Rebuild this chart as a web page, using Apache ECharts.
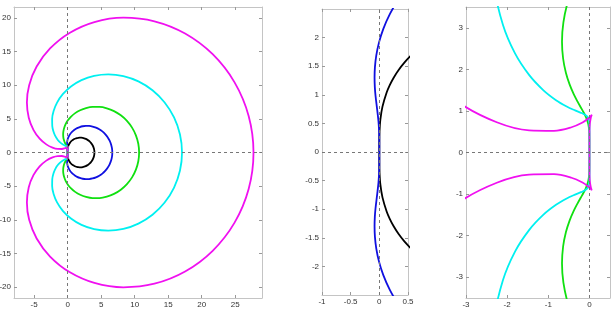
<!DOCTYPE html>
<html>
<head>
<meta charset="utf-8">
<script src="https://cdn.jsdelivr.net/npm/echarts@6/dist/echarts.min.js"></script>
<style>
  html, body { margin: 0; padding: 0; background: #fff; }
  #chart { width: 615px; height: 312px; }
</style>
</head>
<body>
<div id="chart"></div>
<script>
// boundary curves, traced as [x, y] points (closed loops starting at the origin)
const bdf2 = [
  [0,0],[0.0002,0.1763],[0.0036,0.3627],[0.0179,0.5670],[0.0547,0.7932],[0.1276,1.0397],[0.1818,1.1685],
  [0.25,1.2990],[0.3334,1.4296],[0.4329,1.5580],[0.5494,1.6819],[0.6829,1.7986],[0.8333,1.9056],[1,2],
  [1.1819,2.0792],[1.3775,2.1406],[1.5846,2.1819],[1.8010,2.2008],[2.0239,2.1957],[2.25,2.1651],
  [2.4762,2.1081],[2.6988,2.0245],[2.9142,1.9142],[3.1189,1.7780],[3.3093,1.6170],[3.4821,1.4330],
  [3.6340,1.2283],[3.7624,1.0054],[3.8649,0.7676],[3.9395,0.5183],[3.9848,0.2612],[4,0],
  [3.9848,-0.2612],[3.9395,-0.5183],[3.8649,-0.7676],[3.7624,-1.0054],[3.6340,-1.2283],[3.4821,-1.4330],
  [3.3093,-1.6170],[3.1189,-1.7780],[2.9142,-1.9142],[2.6988,-2.0245],[2.4762,-2.1081],[2.25,-2.1651],
  [2.0239,-2.1957],[1.8010,-2.2008],[1.5846,-2.1819],[1.3775,-2.1406],[1.1819,-2.0792],[1,-2],
  [0.8333,-1.9056],[0.6829,-1.7986],[0.5494,-1.6819],[0.4329,-1.5580],[0.3334,-1.4296],[0.25,-1.2990],
  [0.1818,-1.1685],[0.1276,-1.0397],[0.0547,-0.7932],[0.0179,-0.5670],[0.0036,-0.3627],[0.0002,-0.1763],[0,0]
];
const bdf3 = [
  [0,0],[-0.0002,0.1746],[-0.0034,0.3506],[-0.0148,0.5343],[-0.0377,0.7398],[-0.0668,0.9876],[-0.0785,1.1342],
  [-0.0833,1.2990],[-0.0767,1.4836],[-0.0531,1.6882],[-0.0065,1.9121],[0.0695,2.1527],[0.1809,2.4061],
  [0.3333,2.6667],[0.5313,2.9271],[0.7781,3.1788],[1.0751,3.4121],[1.4216,3.6166],[1.8150,3.7817],
  [2.25,3.8971],[2.7191,3.9533],[3.2126,3.9420],[3.7190,3.8570],[4.2253,3.6943],[4.7175,3.4522],
  [5.1814,3.1324],[5.6027,2.7389],[5.9682,2.2789],[6.2659,1.7622],[6.4860,1.2007],[6.6211,0.6082],[6.6667,0],
  [6.6211,-0.6082],[6.4860,-1.2007],[6.2659,-1.7622],[5.9682,-2.2789],[5.6027,-2.7389],[5.1814,-3.1324],
  [4.7175,-3.4522],[4.2253,-3.6943],[3.7190,-3.8570],[3.2126,-3.9420],[2.7191,-3.9533],[2.25,-3.8971],
  [1.8150,-3.7817],[1.4216,-3.6166],[1.0751,-3.4121],[0.7781,-3.1788],[0.5313,-2.9271],[0.3333,-2.6667],
  [0.1809,-2.4061],[0.0695,-2.1527],[-0.0065,-1.9121],[-0.0531,-1.6882],[-0.0767,-1.4836],[-0.0833,-1.2990],
  [-0.0785,-1.1342],[-0.0668,-0.9876],[-0.0377,-0.7398],[-0.0148,-0.5343],[-0.0034,-0.3506],[-0.0002,-0.1746],[0,0]
];
const bdf4 = [
  [0,0],[0,0.1745],[-0.0006,0.3482],[-0.0058,0.5188],[-0.0282,0.6859],[-0.0890,0.8619],[-0.1406,0.9633],
  [-0.2083,1.0825],[-0.2910,1.2282],[-0.3848,1.4099],[-0.4822,1.6374],[-0.5722,1.9192],[-0.6397,2.2614],
  [-0.6667,2.6667],[-0.6326,3.1323],[-0.5163,3.6499],[-0.2973,4.2044],[0.0420,4.7743],[0.5141,5.3321],
  [1.125,5.8457],[1.8722,6.2801],[2.7439,6.5998],[3.7190,6.7712],[4.7669,6.7658],[5.8494,6.5620],
  [6.9225,6.1479],[7.9386,5.5227],[8.8504,4.6974],[9.6130,3.6946],[10.1879,2.5480],[10.5454,1.3002],[10.6667,0],
  [10.5454,-1.3002],[10.1879,-2.5480],[9.6130,-3.6946],[8.8504,-4.6974],[7.9386,-5.5227],[6.9225,-6.1479],
  [5.8494,-6.5620],[4.7669,-6.7658],[3.7190,-6.7712],[2.7439,-6.5998],[1.8722,-6.2801],[1.125,-5.8457],
  [0.5141,-5.3321],[0.0420,-4.7743],[-0.2973,-4.2044],[-0.5163,-3.6499],[-0.6326,-3.1323],[-0.6667,-2.6667],
  [-0.6397,-2.2614],[-0.5722,-1.9192],[-0.4822,-1.6374],[-0.3848,-1.4099],[-0.2910,-1.2282],[-0.2083,-1.0825],
  [-0.1406,-0.9633],[-0.0890,-0.8619],[-0.0282,-0.6859],[-0.0058,-0.5188],[-0.0006,-0.3482],[0,-0.1745],[0,0]
];
const bdf5 = [
  [0,0],[0,0.1745],[0.0002,0.3489],[0.0014,0.5207],[0.0013,0.6807],[-0.0183,0.8124],[-0.0499,0.8643],
  [-0.1083,0.9093],[-0.2048,0.9549],[-0.3501,1.0141],[-0.5521,1.1069],[-0.8124,1.2592],[-1.1237,1.5018],
  [-1.4667,1.8667],[-1.8085,2.3832],[-2.1028,3.0724],[-2.2915,3.9418],[-2.3095,4.9800],[-2.0905,6.1533],
  [-1.575,7.4045],[-0.7188,8.6542],[0.4993,9.8055],[2.0704,10.7511],[3.9526,11.3839],[6.0697,11.6070],
  [8.3153,11.3460],[10.5598,10.5579],[12.6611,9.2388],[14.4769,7.4268],[15.8787,5.2017],[16.7640,2.6788],[17.0667,0],
  [16.7640,-2.6788],[15.8787,-5.2017],[14.4769,-7.4268],[12.6611,-9.2388],[10.5598,-10.5579],[8.3153,-11.3460],
  [6.0697,-11.6070],[3.9526,-11.3839],[2.0704,-10.7511],[0.4993,-9.8055],[-0.7188,-8.6542],[-1.575,-7.4045],
  [-2.0905,-6.1533],[-2.3095,-4.9800],[-2.2915,-3.9418],[-2.1028,-3.0724],[-1.8085,-2.3832],[-1.4667,-1.8667],
  [-1.1237,-1.5018],[-0.8124,-1.2592],[-0.5521,-1.1069],[-0.3501,-1.0141],[-0.2048,-0.9549],[-0.1083,-0.9093],
  [-0.0499,-0.8643],[-0.0183,-0.8124],[0.0013,-0.6807],[0.0014,-0.5207],[0.0002,-0.3489],[0,-0.1745],[0,0]
];
const bdf6 = [
  [0,0],[0,0.1745],[0,0.3491],[0.0014,0.5239],[0.0099,0.6955],[0.0343,0.8428],[0.0500,0.8910],
  [0.0583,0.9093],[0.0431,0.8885],[-0.0212,0.8242],[-0.1682,0.7230],[-0.4362,0.6076],[-0.8612,0.5221],
  [-1.4667,0.5333],[-2.2519,0.7283],[-3.1805,1.2057],[-4.1722,2.0611],[-5.1005,3.3687],[-5.7986,5.1597],
  [-6.075,7.4045],[-5.7370,9.9988],[-4.6201,12.7611],[-2.6199,15.4415],[0.2805,17.7443],[3.9922,19.3604],
  [8.3153,20.0095],[12.9505,19.4800],[17.5265,17.6659],[21.6404,14.5904],[24.9075,10.4144],[27.0085,5.4238],[27.7333,0],
  [27.0085,-5.4238],[24.9075,-10.4144],[21.6404,-14.5904],[17.5265,-17.6659],[12.9505,-19.4800],[8.3153,-20.0095],
  [3.9922,-19.3604],[0.2805,-17.7443],[-2.6199,-15.4415],[-4.6201,-12.7611],[-5.7370,-9.9988],[-6.075,-7.4045],
  [-5.7986,-5.1597],[-5.1005,-3.3687],[-4.1722,-2.0611],[-3.1805,-1.2057],[-2.2519,-0.7283],[-1.4667,-0.5333],
  [-0.8612,-0.5221],[-0.4362,-0.6076],[-0.1682,-0.7230],[-0.0212,-0.8242],[0.0431,-0.8885],[0.0583,-0.9093],
  [0.0500,-0.8910],[0.0343,-0.8428],[0.0099,-0.6955],[0.0014,-0.5239],[0,-0.3491],[0,-0.1745],[0,0]
];

// tick labels
const leftXTicks = [-5, 0, 5, 10, 15, 20, 25];
const leftYTicks = [-20, -15, -10, -5, 0, 5, 10, 15, 20];
const midXTicks = [-1, -0.5, 0, 0.5];
const midYTicks = [-2, -1.5, -1, -0.5, 0, 0.5, 1, 1.5, 2];
const rightXTicks = [-3, -2, -1, 0];
const rightYTicks = [-3, -2, -1, 0, 1, 2, 3];

const FONT = "'Liberation Sans', Arial, sans-serif";
const BOX = '#c4c4c4';

function axes(kind, grid, min, max, ticks) {
    const base = {
        type: 'value', gridIndex: grid, min: min, max: max,
        splitLine: { show: false },
        axisLine: { show: true, onZero: false, lineStyle: { color: BOX, width: 1 } },
        axisTick: { show: true, inside: true, length: 3, customValues: ticks,
            lineStyle: { color: '#999', width: 1 } },
    };
    const main = Object.assign({}, base, {
        position: kind === 'x' ? 'bottom' : 'left',
        axisLabel: { show: true, customValues: ticks, fontSize: 8, color: '#333',
            fontFamily: FONT, margin: 3 },
    });
    const other = Object.assign({}, base, {
        position: kind === 'x' ? 'top' : 'right',
        axisLabel: { show: false },
    });
    return [main, other];
}

const grids = [
    { left: 14, top: 7, width: 248, height: 291, outerBoundsMode: 'none', containLabel: false },
    { left: 322, top: 9, width: 86, height: 286, outerBoundsMode: 'none', containLabel: false },
    { left: 466, top: 7, width: 144, height: 291, outerBoundsMode: 'none', containLabel: false },
];

const xAxes = [].concat(
    axes('x', 0, -8, 29, leftXTicks),
    axes('x', 1, -1, 0.5, midXTicks),
    axes('x', 2, -3, 0.5, rightXTicks)
);
const yAxes = [].concat(
    axes('y', 0, -21.6, 21.6, leftYTicks),
    axes('y', 1, -2.5, 2.5, midYTicks),
    axes('y', 2, -3.5, 3.5, rightYTicks)
);

function dashes(g) {
    return {
        type: 'line', data: [], xAxisIndex: 2 * g, yAxisIndex: 2 * g, z: 1, silent: true,
        markLine: {
            silent: true, symbol: ['none', 'none'], label: { show: false },
            lineStyle: { color: '#777', width: 1, type: [3, 3] },
            data: [{ xAxis: 0 }, { yAxis: 0 }],
        },
    };
}

function curve(g, data, color) {
    return {
        type: 'line', data: data, xAxisIndex: 2 * g, yAxisIndex: 2 * g, z: 3,
        showSymbol: false, smooth: 0.33, clip: true,
        lineStyle: { color: color, width: 1.8 },
    };
}

const series = [
    dashes(0), dashes(1), dashes(2),
    curve(0, bdf2, '#000000'),
    curve(0, bdf3, '#1010e0'),
    curve(0, bdf4, '#10e010'),
    curve(0, bdf5, '#00f0f0'),
    curve(0, bdf6, '#f010f0'),
    curve(1, bdf2, '#000000'),
    curve(1, bdf3, '#1010e0'),
    curve(2, bdf4, '#10e010'),
    curve(2, bdf5, '#00f0f0'),
    curve(2, bdf6, '#f010f0'),
];

const chart = echarts.init(document.getElementById('chart'));
chart.setOption({
    animation: false,
    backgroundColor: '#fff',
    grid: grids,
    xAxis: xAxes,
    yAxis: yAxes,
    series: series,
});
</script>
</body>
</html>
